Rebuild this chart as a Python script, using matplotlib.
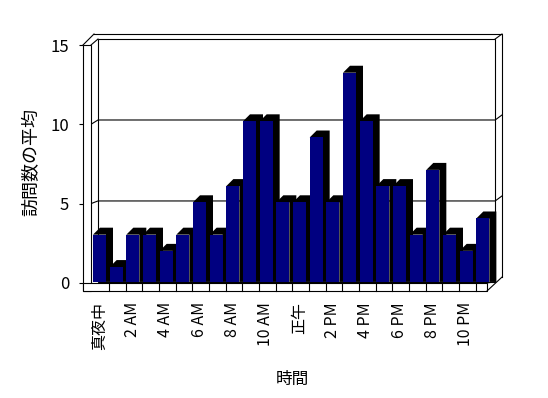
import matplotlib
matplotlib.use("Agg")
import matplotlib.pyplot as plt
from matplotlib.patches import Rectangle, Polygon

plt.rcParams['font.family'] = ['Noto Sans CJK JP', 'DejaVu Sans']

# data: average visits per hour of day
hours = list(range(24))
visits = [3, 1, 3, 3, 2, 3, 5, 3, 6, 10, 10, 5, 5, 9, 5, 13, 10, 6, 6, 3, 7, 3, 2, 4]
hour_labels = ['真夜中', '2 AM', '4 AM', '6 AM', '8 AM', '10 AM',
               '正午', '2 PM', '4 PM', '6 PM', '8 PM', '10 PM']
y_ticks = [0, 5, 10, 15]

W, H = 548, 398
fig = plt.figure(figsize=(W / 100, H / 100), dpi=100)
ax = fig.add_axes([83 / W, (H - 291) / H, (502 - 83) / W, (291 - 34) / H])
ax.set_xlim(-0.48, 24.66)
ax.set_ylim(-0.56, 15.31)
for s in ax.spines.values():
    s.set_visible(False)

lw = 0.8
k = dict(color='black', lw=lw, clip_on=False)
ddx, ddy = 0.42, 0.43        # depth offset of the bars
wx0, wx1 = 0.42, 24.25       # back wall inner face
ox, oy = 24.66, 15.31        # back wall outer edge
fx0, fx1 = -0.48, 23.76      # front floor
fy0, fy1 = -0.56, -0.06
ftop = 14.63                 # top of left wall front face

# back wall
ax.add_patch(Rectangle((wx0, 0), wx1 - wx0, 15, fill=False, ec='black', lw=lw,
                       zorder=1, clip_on=False))
ax.plot([0.18, ox, ox], [oy, oy, 0.3], zorder=1, **k)
ax.plot([wx1, ox], [15, oy], zorder=1, **k)
for g in [5, 10]:
    ax.plot([0, wx0, wx1, ox], [fy1 + g * (ftop - fy1) / 15, g, g, g + 0.31],
            zorder=1, **k)

# bars with dark depth
for i, v in zip(hours, visits):
    x0, x1 = i + 0.12, i + 0.9
    top = v - 0.08
    ax.add_patch(Polygon([(x0, top), (x0 + ddx, top + ddy), (x1 + ddx, top + ddy),
                          (x1 + ddx, 0), (x1, 0), (x1, top)],
                         closed=True, fc='black', ec='none', zorder=3))
    ax.add_patch(Rectangle((x0, 0), x1 - x0, top, fc='#000080', ec='none', zorder=4))

# left wall slab
ax.add_patch(Rectangle((fx0, fy0), 0 - fx0, ftop - fy0, fc='white', ec='black', lw=lw,
                       zorder=5, clip_on=False))
ax.plot([fx0, 0.18], [ftop, oy], zorder=5, **k)
ax.plot([0, wx0], [ftop, 15], zorder=5, **k)

# floor slab
ax.add_patch(Rectangle((fx0, fy0), fx1 - fx0, fy1 - fy0, fc='white', ec='black', lw=lw,
                       zorder=5, clip_on=False))
for i in range(1, 24):
    ax.plot([i + 0.08, i + 0.08], [fy0, fy1], zorder=6, **k)
ax.plot([fx1, ox], [fy0, 0.3], zorder=5, **k)
ax.plot([fx1, wx1], [fy1, 0], zorder=5, **k)

# ticks and labels
ax.set_xticks([h + 0.5 for h in hours[::2]])
ax.set_xticklabels(hour_labels, rotation=90, fontsize=11.5)
ax.tick_params(axis='x', length=0, pad=8)
ax.set_yticks([fy1 + t * (ftop - fy1) / 15 for t in y_ticks])
ax.set_yticklabels([str(t) for t in y_ticks], fontsize=12)
ax.tick_params(axis='y', length=3, width=lw, pad=7)

ax.set_xlabel('時間', fontsize=12, labelpad=15)
ax.set_ylabel('訪問数の平均', fontsize=13, labelpad=7)

fig.savefig('out.png', dpi=100, facecolor='white')
